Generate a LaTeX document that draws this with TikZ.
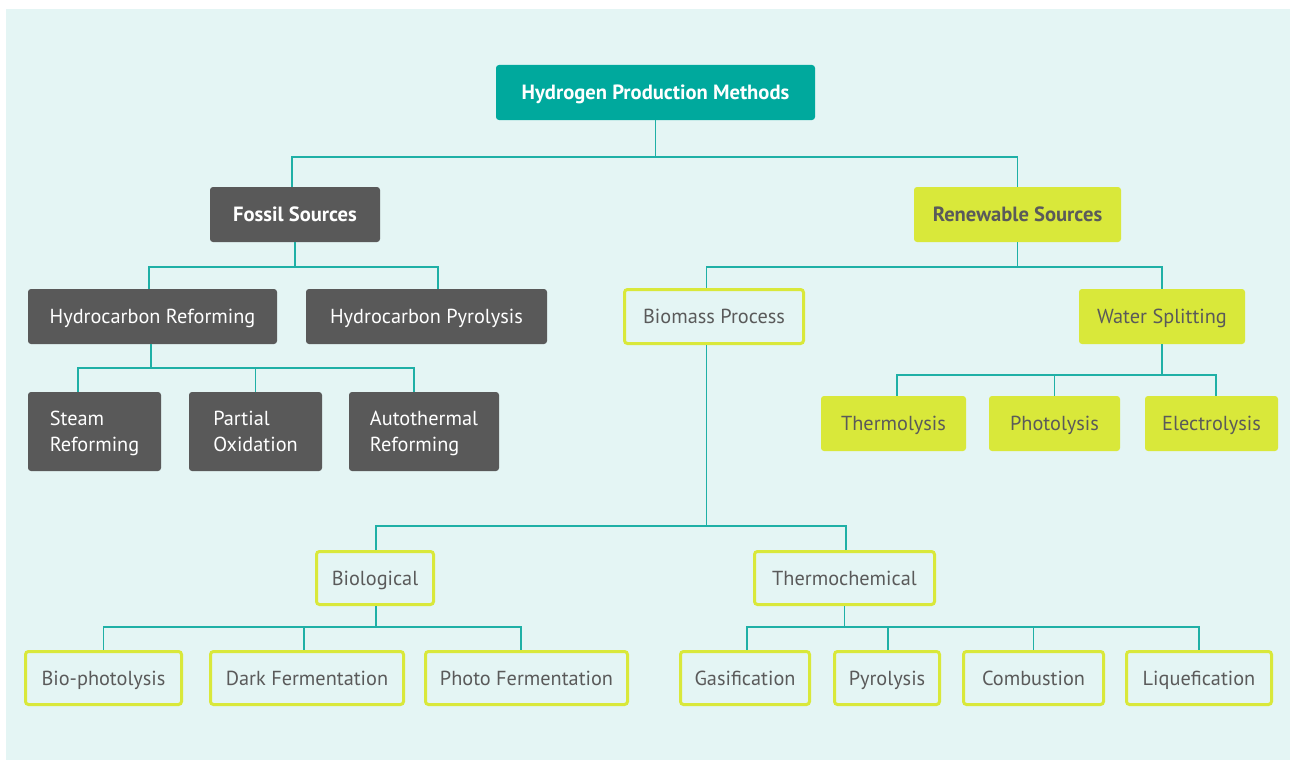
\documentclass[tikz,border=0pt]{standalone}
\usepackage{fontspec}
\setmainfont{PT Sans}
\definecolor{bgc}{HTML}{E4F5F4}
\definecolor{teal}{HTML}{00A99D}
\definecolor{dgray}{HTML}{595959}
\definecolor{lime}{HTML}{D9E83A}
\definecolor{tgray}{HTML}{5A5A5A}
\definecolor{lined}{HTML}{1FB0A6}
\begin{document}
\begin{tikzpicture}[x=1pt,y=-1pt,
  base/.style={rounded corners=3pt,inner sep=0pt,font=\fontsize{20.3}{24}\selectfont,align=center,text height=14.2pt,text depth=0pt},
  boldf/.style={font=\fontsize{20.6}{24}\selectfont\bfseries},
  rootbox/.style={base,boldf,fill=teal,text=white},
  fossilbox/.style={base,fill=dgray,text=white},
  fossilbold/.style={fossilbox,boldf},
  renbox/.style={base,fill=lime,text=tgray},
  renbold/.style={renbox,boldf},
  outbox/.style={base,draw=lime,line width=3pt,fill=bgc,text=tgray},
  twoline/.style={rounded corners=3pt,inner sep=0pt,fill=dgray,text=white,align=left,text depth=0pt,font=\fontsize{20.3}{26}\selectfont},
  conn/.style={draw=lined,line width=1.1pt}]
\useasboundingbox (0,0) rectangle (1290,760);
\fill[bgc] (6,9) rectangle (1290,760);
% nodes
\node[rootbox,minimum width=319,minimum height=55] (root) at (655.5,92.5) {Hydrogen Production Methods};
\node[fossilbold,minimum width=170,minimum height=55] (fos) at (295,214.5) {Fossil Sources};
\node[renbold,minimum width=207,minimum height=55] (ren) at (1017.5,214.5) {Renewable Sources};
\node[fossilbox,minimum width=249,minimum height=55] (hr) at (152.5,316.5) {Hydrocarbon Reforming};
\node[fossilbox,minimum width=241,minimum height=55] (hp) at (426.5,316.5) {Hydrocarbon Pyrolysis};
\node[outbox,minimum width=179,minimum height=54] (bio) at (714,316.5) {Biomass Process};
\node[renbox,minimum width=166,minimum height=55] (ws) at (1162,316.5) {Water Splitting};
\node[twoline,minimum width=133,minimum height=79] (sr) at (94.5,431.5) {Steam\\Reforming};
\node[twoline,minimum width=133,minimum height=79] (po) at (255.5,431.5) {Partial\\Oxidation};
\node[twoline,minimum width=150,minimum height=79] (ar) at (424,431.5) {Autothermal\\Reforming};
\node[renbox,minimum width=145,minimum height=55] (th) at (893.5,423.5) {Thermolysis};
\node[renbox,minimum width=131,minimum height=55] (ph) at (1054.5,423.5) {Photolysis};
\node[renbox,minimum width=133,minimum height=55] (el) at (1211.5,423.5) {Electrolysis};
\node[outbox,minimum width=117,minimum height=53] (bl) at (375,578) {Biological};
\node[outbox,minimum width=180,minimum height=53] (tc) at (844.5,578) {Thermochemical};
\node[outbox,minimum width=156,minimum height=53] (bp) at (103.5,678) {Bio-photolysis};
\node[outbox,minimum width=193,minimum height=53] (df) at (307,678) {Dark Fermentation};
\node[outbox,minimum width=202,minimum height=53] (pf) at (526.5,678) {Photo Fermentation};
\node[outbox,minimum width=129,minimum height=53] (ga) at (745,678) {Gasification};
\node[outbox,minimum width=105,minimum height=53] (py) at (887,678) {Pyrolysis};
\node[outbox,minimum width=140,minimum height=53] (co) at (1033.5,678) {Combustion};
\node[outbox,minimum width=145,minimum height=53] (li) at (1199,678) {Liquefication};
% bus levels
\coordinate (b1) at (0,157);
\coordinate (b2) at (0,267);
\coordinate (b3) at (0,368);
\coordinate (b4) at (0,375);
\coordinate (b5) at (0,526);
\coordinate (b6) at (0,627);
% connectors
\path[conn] (root.south) -- (root.south |- b1) -| ([xshift=-3pt]fos.north);
\path[conn] (root.south |- b1) -| (ren.north);
\path[conn] (fos.south) -- (fos.south |- b2) -| ([xshift=-3.5pt]hr.north);
\path[conn] (fos.south |- b2) -| ([xshift=11.5pt]hp.north);
\path[conn] (ren.south) -- (ren.south |- b2) -| ([xshift=-7.5pt]bio.north);
\path[conn] (ren.south |- b2) -| (ws.north);
\path[conn] ([xshift=-1.5pt]hr.south) -- ([xshift=-1.5pt]hr.south |- b3) -| ([xshift=-16.5pt]sr.north);
\path[conn] ([xshift=-1.5pt]hr.south |- b3) -| (po.north);
\path[conn] ([xshift=-1.5pt]hr.south |- b3) -| ([xshift=-10pt]ar.north);
\path[conn] (ws.south) -- (ws.south |- b4) -| ([xshift=3.5pt]th.north);
\path[conn] (ws.south |- b4) -| (ph.north);
\path[conn] (ws.south |- b4) -| ([xshift=4.5pt]el.north);
\path[conn] ([xshift=-7.5pt]bio.south) -- ([xshift=-7.5pt]bio.south |- b5) -| ([xshift=1pt]bl.north);
\path[conn] ([xshift=-7.5pt]bio.south |- b5) -| ([xshift=1.5pt]tc.north);
\path[conn] ([xshift=1pt]bl.south) -- ([xshift=1pt]bl.south |- b6) -| (bp.north);
\path[conn] ([xshift=1pt]bl.south |- b6) -| ([xshift=-3pt]df.north);
\path[conn] ([xshift=1pt]bl.south |- b6) -| ([xshift=-5.5pt]pf.north);
\path[conn] (tc.south) -- (tc.south |- b6) -| ([xshift=2pt]ga.north);
\path[conn] (tc.south |- b6) -| ([xshift=1pt]py.north);
\path[conn] (tc.south |- b6) -| (co.north);
\path[conn] (tc.south |- b6) -| (li.north);
\end{tikzpicture}
\end{document}
